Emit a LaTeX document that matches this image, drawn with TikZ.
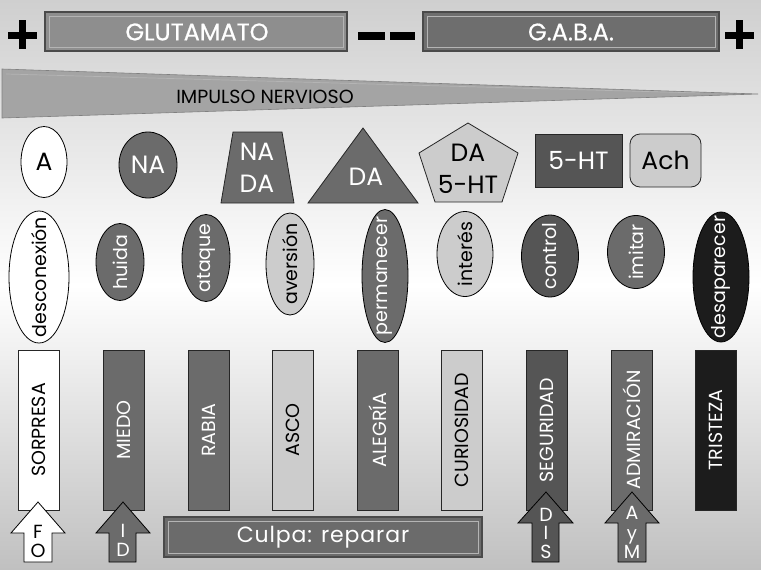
\documentclass[tikz,border=0pt]{standalone}
\usepackage{fontspec}
\setmainfont{Poppins}
\usetikzlibrary{shapes.geometric}
\definecolor{gA}{HTML}{6B6B6B}
\definecolor{gB}{HTML}{555555}
\definecolor{gL}{HTML}{CCCCCC}
\definecolor{gK}{HTML}{1C1C1C}
\definecolor{gM}{HTML}{8E8E8E}
\definecolor{gG}{HTML}{6E6E6E}
\definecolor{gTop}{HTML}{CFCFCF}
\definecolor{gBot}{HTML}{C0C0C0}
\definecolor{gTri}{HTML}{A4A4A4}
\definecolor{gEdge}{HTML}{4A4A4A}
\definecolor{gBev}{HTML}{B4B4B4}
\tikzset{
  ell/.style={ellipse, draw=black, line width=0.8pt, inner sep=0pt},
  elltxt/.style={rotate=90, inner sep=0pt, font=\fontsize{19}{23}\selectfont},
  bar/.style={rectangle, draw=black!85, line width=0.8pt, inner sep=0pt, rotate=90,
              minimum width=160pt, minimum height=41pt, font=\fontsize{19}{23}\selectfont},
  topshape/.style={draw=black!85, line width=0.8pt},
  toptxt/.style={align=center, inner sep=0pt, font=\fontsize{25}{32}\selectfont},
  bevel/.style={draw=gEdge, line width=1.2pt},
  bevelin/.style={draw=gBev, line width=0.7pt},
  arr/.style={draw=black, line width=0.8pt, line join=miter},
  arrtxt/.style={anchor=base, inner sep=0pt, font=\fontsize{19}{20}\selectfont},
  wt/.style={text=white},
  bt/.style={text=black},
  bartitle/.style={text=white, font=\fontsize{24}{28}\selectfont\addfontfeature{FakeBold=0.6}},
}
\begin{document}
\begin{tikzpicture}[x=1pt,y=-1pt]
\useasboundingbox (0,0) rectangle (761,570);
\shade[top color=gTop, bottom color=gBot, middle color=white] (0,0) rectangle (761,570);

% top bar
\fill[black] (8,31.5) rectangle (37,38.5);
\fill[black] (19,20) rectangle (26,49);
\fill[black] (725,31.5) rectangle (754,38.5);
\fill[black] (736,20) rectangle (743,49);
\fill[black] (358,32) rectangle (385,40);
\fill[black] (390,32) rectangle (415,40);

\path[bevel, fill=gM] (45,12) rectangle (347,51);
\draw[bevelin] (49,16) rectangle (343,47);
\node[bartitle] (glu) at (197,32) {GLUTAMATO};
\path[bevel, fill=gG] (423,12) rectangle (719,51);
\draw[bevelin] (427,16) rectangle (715,47);
\node[bartitle] (gaba) at (571,32) {G.A.B.A.};

% impulso triangle
\path[fill=gTri, draw=gEdge!70, line width=0.6pt] (2,69) -- (758,94) -- (2,118) -- cycle;
\draw[gBev, line width=0.7pt] (6,74) -- (700,93);
\node[bt, font=\fontsize{19}{24}\selectfont] (imp) at (265,97) {IMPULSO NERVIOSO};

% top shapes
\node[ellipse, draw=black, line width=0.8pt, fill=white, minimum width=46pt, minimum height=71pt, inner sep=0pt] (sA) at (44,162) {};
\node[toptxt, bt] (tA) at (sA) {A};
\node[ellipse, draw=black, line width=0.8pt, fill=gA, minimum width=58pt, minimum height=66pt, inner sep=0pt] (sNA) at (148,165) {};
\node[toptxt, wt] (tNA) at (sNA) {NA};
\path[topshape, fill=gA] (233,132) -- (282,132) -- (294,203) -- (221,203) -- cycle;
\node[toptxt, wt] (sNADA) at (257,168) {NA\\DA};
\path[topshape, fill=gA] (363,128) -- (418,203) -- (308,203) -- cycle;
\node[toptxt, wt] (sDA) at (366,177) {DA};
\path[topshape, fill=gL] (468,123) -- (518,153) -- (502,202) -- (435,202) -- (419,153) -- cycle;
\node[toptxt, bt] (sDAHT) at (468,169) {DA\\5-HT};
\node[rectangle, draw=black!85, line width=0.8pt, fill=gB, minimum width=87pt, minimum height=53pt, toptxt, wt] (sHT) at (578.5,160.5) {5-HT};
\node[rectangle, rounded corners=10pt, draw=black!85, line width=0.8pt, fill=gL, minimum width=71pt, minimum height=53pt, toptxt, bt] (sAch) at (665.5,160.5) {Ach};

% ellipses row
\node[ell, fill=white, minimum width=60pt, minimum height=132pt] (e1) at (39,277) {};
\node[elltxt, bt] (t1) at (e1) {desconexión};
\node[ell, fill=gA, minimum width=48pt, minimum height=77pt] (e2) at (120,262) {};
\node[elltxt, wt] (t2) at (e2) {huida};
\node[ell, fill=gA, minimum width=48pt, minimum height=87pt] (e3) at (206,258) {};
\node[elltxt, wt] (t3) at (e3) {ataque};
\node[ell, fill=gL, minimum width=48pt, minimum height=102pt] (e4) at (290,264) {};
\node[elltxt, bt] (t4) at (e4) {aversión};
\node[ell, fill=gA, minimum width=46pt, minimum height=133pt] (e5) at (385,276) {};
\node[elltxt, wt] (t5) at (e5) {permanecer};
\node[ell, fill=gL, minimum width=56pt, minimum height=85pt] (e6) at (465,254) {};
\node[elltxt, bt] (t6) at (e6) {interés};
\node[ell, fill=gB, minimum width=57pt, minimum height=82pt] (e7) at (550,256) {};
\node[elltxt, wt] (t7) at (e7) {control};
\node[ell, fill=gA, minimum width=57pt, minimum height=73pt] (e8) at (636,252) {};
\node[elltxt, wt] (t8) at (e8) {imitar};
\node[ell, fill=gK, minimum width=56pt, minimum height=130pt] (e9) at (721,277) {};
\node[elltxt, wt] (t9) at (e9) {desaparecer};

% bars row
\node[bar, fill=white, bt] (b1) at (39,430) {SORPRESA};
\node[bar, fill=gA, wt] (b2) at (124,430) {MIEDO};
\node[bar, fill=gA, wt] (b3) at (208.5,430) {RABIA};
\node[bar, fill=gL, bt] (b4) at (293,430) {ASCO};
\node[bar, fill=gA, wt] (b5) at (377.5,430) {ALEGRÍA};
\node[bar, fill=gL, bt] (b6) at (462,430) {CURIOSIDAD};
\node[bar, fill=gB, wt] (b7) at (546.5,430) {SEGURIDAD};
\node[bar, fill=gA, wt] (b8) at (631.5,430) {ADMIRACIÓN};
\node[bar, fill=gK, wt] (b9) at (716,430) {TRISTEZA};

% culpa box
\path[bevel, fill=gA] (164,517) rectangle (482,557);
\draw[bevelin] (168,521) rectangle (478,553);
\node[wt, font=\fontsize{22}{24}\selectfont\addfontfeature{LetterSpace=4}] (culpa) at (323,537) {Culpa: reparar};

% arrows
\path[arr, fill=white] (38,502) -- (65,533) -- (52,533) -- (52,562) -- (24,562) -- (24,533) -- (11,533) -- cycle;
\node[arrtxt, bt] (fo1) at (38,538) {F};
\node[arrtxt, bt] (fo2) at (38,557) {O};
\path[arr, fill=gA] (123,502) -- (150,533) -- (136,533) -- (136,562) -- (109,562) -- (109,533) -- (96,533) -- cycle;
\node[arrtxt, wt] (id1) at (123,537) {I};
\node[arrtxt, wt] (id2) at (123,556) {D};
\path[arr, fill=gB] (546,492) -- (573,523) -- (559,523) -- (559,562) -- (532,562) -- (532,523) -- (518,523) -- cycle;
\node[arrtxt, wt] (dis1) at (546,521) {D};
\node[arrtxt, wt] (dis2) at (546,539.5) {I};
\node[arrtxt, wt] (dis3) at (546,558) {S};
\path[arr, fill=gA] (632,492) -- (659,523) -- (646,523) -- (646,562) -- (618,562) -- (618,523) -- (605,523) -- cycle;
\node[arrtxt, wt] (aym1) at (632,519.5) {A};
\node[arrtxt, wt, font=\fontsize{18}{20}\selectfont] (aym2) at (632,539) {y};
\node[arrtxt, wt] (aym3) at (632,558) {M};
\end{tikzpicture}
\end{document}
